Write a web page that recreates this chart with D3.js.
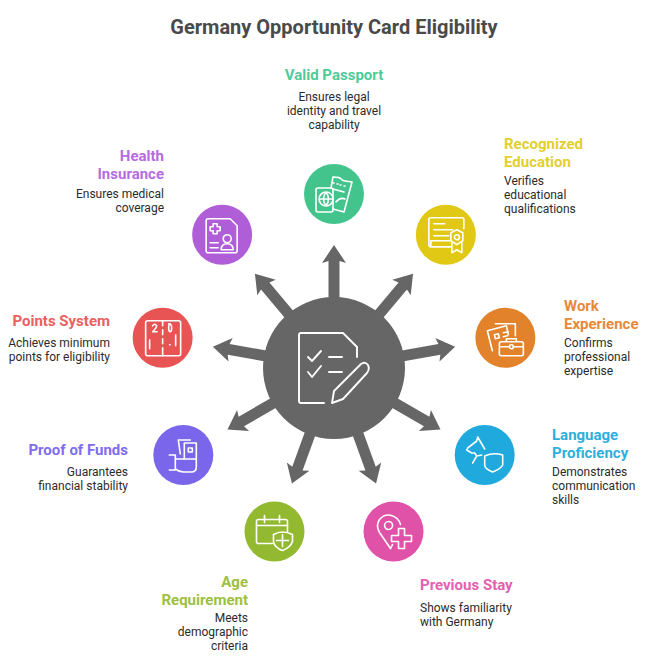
<!DOCTYPE html>
<html><head><meta charset="utf-8">
<script src="https://cdn.jsdelivr.net/npm/d3@7"></script>
<style>html,body{margin:0;padding:0;background:#fff}svg{display:block}text{font-family:Roboto,sans-serif}</style>
</head><body><svg id="c" width="649" height="658"></svg>
<script>
const chartTitle = "Germany Opportunity Card Eligibility";
const names = ["Valid Passport","Recognized Education","Work Experience","Language Proficiency","Previous Stay","Age Requirement","Proof of Funds","Points System","Health Insurance"];
const nameLines = [["Valid Passport"],["Recognized","Education"],["Work","Experience"],["Language","Proficiency"],["Previous Stay"],["Age","Requirement"],["Proof of Funds"],["Points System"],["Health","Insurance"]];
const descLines = [["Ensures legal","identity and travel","capability"],["Verifies","educational","qualifications"],["Confirms","professional","expertise"],["Demonstrates","communication","skills"],["Shows familiarity","with Germany"],["Meets","demographic","criteria"],["Guarantees","financial stability"],["Achieves minimum","points for eligibility"],["Ensures medical","coverage"]];
const colors = ["#43c48d","#e0c814","#e2832b","#1fa9dc","#df52a8","#93b930","#7a66ea","#e85454","#b05ed8"];
const labelColors = ["#4fcb97","#e3cf2e","#e58a38","#2dafde","#e361b0","#9dc040","#7f6dec","#ea5f5f","#b76be0"];
// layout: [anchor, x, baseline of title, baseline of description]
const layout = [["middle",334,80,101],["start",504,149,185],["start",564,311,347],["start",552,440,476],["start",420,590,612],["end",248,587,622],["end",128,455,476],["end",110,326,347],["end",164,161,198]];

const icons = [
 // passport + ticket
 ["M-18,-4 Q-18,-6 -16,-6 L-3,-6 Q-1,-6 -1,-4 L-1,16 Q-1,18 -3,18 L-16,18 Q-18,18 -18,16 Z",
  "M-8,-2 A7,7 0 1 0 -7.9,12 A7,7 0 1 0 -8,-2 Z M-15,5 H-1 M-8,-2 Q-13,5 -8,12 Q-3,5 -8,-2",
  "M-3,-6 L-1,-17 Q6,-17 7,-15 Q9,-13 11,-13 L18,-12 L10,18 L-1,15",
  "M-1,-11 L0,-11 M3,-10 L4,-10 M6,-9 L7,-9 M10,-8 L11,-8 M-1,-5 L10,-2 M2,8 Q6,3 11,5"],
 // certificate
 ["M5,12 L-15,12 Q-17,12 -17,10 L-17,-15 Q-17,-17 -15,-17 L16,-17 Q18,-17 18,-15 L18,-6",
  "M-15,12 L-15,6 L5,6 M-12,-11 L-1,-11 M-12,-5 L7,-5 M-12,1 L3,1 M-13,12 L4,12",
  "M11,-5 L17,-2 L17,6 L11,10 L5,6 L5,-2 Z M11,0 A2.5,2.5 0 1 0 11.1,5 A2.5,2.5 0 1 0 11,0 Z",
  "M6,8 L6,18 L11,15 L16,18 L16,8"],
 // papers + briefcase
 ["M-13,13 L-18,-7 L1,-12 L3,-3 M-11,-3 L-7,-4 L-6,0 L-10,1 Z M-2,-5 L3,-6 M-2,-1 L2,-2",
  "M-10,-14 L10,-14 L10,-2", "M-6,6 Q-6,4 -4,4 L16,4 Q18,4 18,6 L18,16 Q18,18 16,18 L-4,18 Q-6,18 -6,16 Z M-6,9 L4,9 M8,9 L18,9 M1,4 L1,1 L11,1 L11,4",
  "M6,7 A2,2 0 1 0 6.1,11 A2,2 0 1 0 6,7 Z"],
 // head + shield
 ["M-7,-18 L-8,-14 L-17,-7 L-18,-5 L-13,-2 L-10,-2 L-8,1 L-12,8 M-8,1 L-3,0 M-7,-18 L0,-6",
  "M0,1 Q9,-3 18,0 L18,10 Q16,14 8,17 Q0,14 0,10 Z"],
 // pin + plus
 ["M-3,17 L-14,1 Q-18,-6 -14,-12 Q-9,-18 -2,-16 Q5,-14 7,-7", "M-1,13 L-3,17",
  "M-5,-10 A4,4 0 1 0 -4.9,-2 A4,4 0 1 0 -5,-10 Z",
  "M5,-3 L11,-3 L11,4 L18,4 L18,10 L11,10 L11,17 L5,17 L5,10 L-2,10 L-2,4 L5,4 Z"],
 // calendar + shield
 ["M-2,12 L-16,12 Q-18,12 -18,10 L-18,-10 Q-18,-12 -16,-12 L11,-12 Q13,-12 13,-10 L13,0 M-18,-6 L13,-6 M-10,-16 L-10,-9 M5,-16 L5,-9",
  "M-1,3 Q8,-2 18,3 L18,10 Q16,16 8,19 Q0,16 -1,10 Z M2,9 L14,9 M8,3 L8,15"],
 // hand + money
 ["M1,4 L1,-12 L13,-12 L13,4", "M-3,-1 L-5,-15 L7,-15", "M5,-7 L9,-7 L9,-3 L5,-3 Z",
  "M-14,0 L-8,0 L-8,15 L-14,15 M-8,4 L13,4 L13,12 Q13,17 8,17 L0,17 Q-4,17 -8,14"],
 // score board
 ["M-15,-17 L16,-17 Q18,-17 18,-15 L18,16 Q18,18 16,18 L-15,18 Q-17,18 -17,16 L-17,-15 Q-17,-17 -15,-17 Z",
  "M0,-17 L0,-12 M0,-8 L0,-3 M0,1 L0,6 M0,10 L0,18",
  "M-13,2 L-13,11 M13,-3 L13,8 M7,7 L7.5,7",
  "M-10,-12 Q-8,-15 -6,-12 Q-6,-10 -10,-6 L-5.5,-6 M6,-14 Q9,-14 9,-10 Q9,-6 7.5,-6 Q6,-6 6,-10 Q6,-14 7.5,-14"],
 // medical record
 ["M-14,-16 L8,-16 L15,-9 L15,16 Q15,18 13,18 L-14,18 Q-16,18 -16,16 L-16,-14 Q-16,-16 -14,-16 Z",
  "M-9,-11 L-5,-11 L-5,-8 L-2,-8 L-2,-4 L-5,-4 L-5,-1 L-9,-1 L-9,-4 L-12,-4 L-12,-8 L-9,-8 Z",
  "M-12,8 L-4,8 M-12,13 L-4,13",
  "M5,0 A4,4 0 1 0 5.1,8 A4,4 0 1 0 5,0 Z M-1,15 Q-1,9 5,9 Q11,9 11,15 Z"]
];
const centerIcon = ["M-10,35 L-33,35 Q-35,35 -35,33 L-35,-33 Q-35,-35 -33,-35 L9,-35 L23,-21 L23,-11",
 "M-26,-11 L-22,-7 L-13,-17 M-26,4 L-22,9 L-13,-2 M-5,-11 L8,-11 M-5,4 L8,4",
 "M-2,35 L0,23 L27,-4 Q31,-7 34,-3 Q36,1 33,5 L9,31 Z"];

const angles = d3.range(names.length).map(i => -90 + i * 40);
const cx = 334, cy = 368;
const svg = d3.select("#c");
const DARK = "#666666";
const radial = d3.scaleLinear().domain([0, 1]).range([0, 174]);
const pt = (deg, r) => [cx + r * Math.cos(deg * Math.PI / 180), cy + r * Math.sin(deg * Math.PI / 180)];

svg.append("text").attr("x", 334).attr("y", 34).attr("text-anchor", "middle")
  .attr("font-size", 20).attr("font-weight", 700).attr("fill", "#4a4a4a").text(chartTitle);

// arrows
const arrows = svg.append("g").selectAll("g").data(angles).join("g")
  .attr("transform", d => `translate(${cx},${cy}) rotate(${d})`);
arrows.append("path").attr("fill", DARK)
  .attr("d", "M60,-5.5 L107,-5.5 L105,-12 L123,0 L105,12 L107,5.5 L60,5.5 Z");

svg.append("circle").attr("cx", cx).attr("cy", cy).attr("r", 71).attr("fill", DARK);
const ci = svg.append("g").attr("transform", `translate(${cx},${cy})`);
ci.selectAll("path").data(centerIcon).join("path").attr("d", d => d)
  .attr("fill", "none").attr("stroke", "#fff").attr("stroke-width", 1.9).attr("stroke-linecap", "round").attr("stroke-linejoin", "round");

// nodes
const nodes = svg.append("g").selectAll("g").data(names).join("g")
  .attr("transform", (d, i) => { const p = pt(angles[i], radial(1)); return `translate(${p[0]},${p[1]})`; });
nodes.append("circle").attr("r", 30).attr("fill", (d, i) => colors[i]);
nodes.each(function (d, i) {
  d3.select(this).selectAll("path").data(icons[i]).join("path").attr("d", s => s)
    .attr("fill", "none").attr("stroke", "#fff").attr("stroke-width", 1.6).attr("stroke-linecap", "round").attr("stroke-linejoin", "round");
});

// labels
names.forEach((n, i) => {
  const [anchor, x, ty, dy] = layout[i];
  const g = svg.append("g").attr("text-anchor", anchor);
  nameLines[i].forEach((t, k) => g.append("text").attr("x", x).attr("y", ty + k * 18)
    .attr("font-size", 15).attr("font-weight", 700).attr("fill", labelColors[i]).text(t));
  descLines[i].forEach((t, k) => g.append("text").attr("x", x).attr("y", dy + k * 14)
    .attr("font-size", 12).attr("fill", "#2b2b2b").text(t));
});
</script></body></html>
